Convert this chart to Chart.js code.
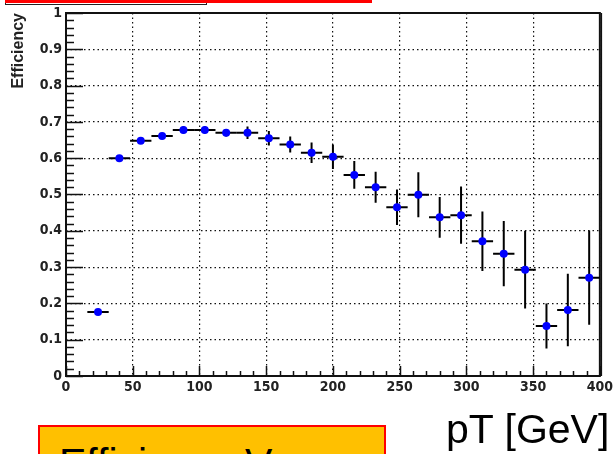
<!DOCTYPE html>
<html>
<head>
<meta charset="utf-8">
<script src="https://cdn.jsdelivr.net/npm/chart.js@4.4.1/dist/chart.umd.min.js"></script>
<style>
  html, body { margin: 0; padding: 0; background: #fff; }
  body { width: 616px; height: 454px; overflow: hidden; position: relative; font-family: "Liberation Sans", Arial, sans-serif; }
  #chart { position: absolute; left: 0; top: 0; }
  .topbar { position: absolute; left: 5px; top: 0; width: 367px; height: 3px; background: #ff0000; }
  .topbox { position: absolute; left: 5px; top: -2px; width: 200px; height: 6px; border: 1.5px solid #222; border-top: none; }
  .title-box { position: absolute; left: 38px; top: 425px; width: 344px; height: 60px; background: #ffc000; border: 2px solid #ff0000; overflow: hidden; }
  .title-box span { position: absolute; left: 19px; top: 16px; font-size: 41px; line-height: 41px; color: #000; white-space: nowrap; }
  .xlabel { position: absolute; left: 446px; top: 409px; font-size: 41px; line-height: 41px; color: #000; white-space: nowrap; }
</style>
</head>
<body>
<canvas id="chart" width="616" height="454"></canvas>
<div class="topbox"></div>
<div class="topbar"></div>
<div class="title-box"><span>Efficiency Vs</span></div>
<div class="xlabel">pT [GeV]</div>
<script>
// bin centres in pT (GeV), bins 16 GeV wide
const ptCenters = [24, 40, 56, 72, 88, 104, 120, 136, 152, 168, 184, 200,
                   216, 232, 248, 264, 280, 296, 312, 328, 344, 360, 376, 392];
const binHalf = 8;
const efficiency = [0.176, 0.600, 0.648, 0.661, 0.678, 0.678, 0.670, 0.670,
                    0.655, 0.638, 0.615, 0.604, 0.554, 0.520, 0.465, 0.499,
                    0.437, 0.443, 0.371, 0.337, 0.293, 0.138, 0.182, 0.271];
const effError = [0.005, 0.006, 0.008, 0.008, 0.010, 0.010, 0.010, 0.017,
                  0.020, 0.022, 0.028, 0.034, 0.038, 0.043, 0.049, 0.062,
                  0.056, 0.079, 0.082, 0.090, 0.107, 0.062, 0.100, 0.130];

const xTickStep = 50, xMinorStep = 10;
const yTickStep = 0.1, yMinorStep = 0.02;

const tickFont = {
  family: "'Liberation Sans Narrow', 'DejaVu Sans Condensed', 'Liberation Sans', Arial, sans-serif",
  size: 14,
  weight: 'bold'
};

// error bars, frame and inside ticks (ROOT style)
const rootPlot = {
  id: 'rootPlot',
  beforeDatasetsDraw(chart) {
    const c = chart.ctx;
    const xs = chart.scales.x, ys = chart.scales.y;
    const a = chart.chartArea;
    c.save();
    c.strokeStyle = '#111';

    // inside ticks on the y axis
    c.lineWidth = 1.5;
    for (let v = 0; v <= 1.0001; v += yMinorStep) {
      const py = Math.round(ys.getPixelForValue(v)) + 0.5;
      const major = Math.abs(v / yTickStep - Math.round(v / yTickStep)) < 1e-6;
      c.beginPath();
      c.moveTo(a.left, py);
      c.lineTo(a.left + (major ? 17 : 8), py);
      c.stroke();
    }
    // inside ticks on the x axis
    for (let v = 0; v <= 400; v += xMinorStep) {
      const px = Math.round(xs.getPixelForValue(v)) + 0.5;
      const major = v % xTickStep === 0;
      c.beginPath();
      c.moveTo(px, a.bottom);
      c.lineTo(px, a.bottom - (major ? 10 : 5));
      c.stroke();
    }

    // frame
    c.lineWidth = 2;
    c.strokeRect(a.left, a.top, a.right - a.left, a.bottom - a.top);
    c.lineWidth = 1.5;
    c.beginPath();
    c.moveTo(a.right + 1.5, a.top);
    c.lineTo(a.right + 1.5, a.bottom);
    c.stroke();

    // error bars
    c.strokeStyle = '#000';
    c.lineWidth = 2;
    ptCenters.forEach((pt, i) => {
      const px = xs.getPixelForValue(pt);
      const py = ys.getPixelForValue(efficiency[i]);
      c.beginPath();
      c.moveTo(xs.getPixelForValue(pt - binHalf), py);
      c.lineTo(xs.getPixelForValue(pt + binHalf), py);
      c.moveTo(px, ys.getPixelForValue(efficiency[i] + effError[i]));
      c.lineTo(px, ys.getPixelForValue(efficiency[i] - effError[i]));
      c.stroke();
    });
    c.restore();
  }
};

const ctx = document.getElementById('chart').getContext('2d');

new Chart(ctx, {
  type: 'scatter',
  data: {
    datasets: [{
      label: 'Efficiency',
      data: ptCenters.map((x, i) => ({ x: x, y: efficiency[i] })),
      pointRadius: 4,
      pointHoverRadius: 4,
      pointBackgroundColor: '#0000ff',
      pointBorderWidth: 0
    }]
  },
  options: {
    responsive: false,
    animation: false,
    events: [],
    layout: { padding: { top: 13, right: 15, left: 0, bottom: 0 } },
    plugins: { legend: { display: false }, tooltip: { enabled: false } },
    scales: {
      x: {
        type: 'linear',
        min: 0,
        max: 400,
        afterFit: s => { s.height = 78; },
        border: { display: false, dash: [1.5, 3] },
        grid: { color: '#111', lineWidth: 1.2, drawTicks: false },
        ticks: { stepSize: xTickStep, padding: 3, color: '#222', font: tickFont, maxRotation: 0 }
      },
      y: {
        min: 0,
        max: 1,
        afterFit: s => { s.width = 66; },
        border: { display: false, dash: [1.5, 3] },
        grid: { color: '#111', lineWidth: 1.2, drawTicks: false },
        ticks: {
          stepSize: yTickStep,
          padding: 4,
          color: '#222',
          font: tickFont,
          callback: v => String(+v.toFixed(1))
        },
        title: {
          display: true,
          text: 'Efficiency',
          align: 'end',
          color: '#222',
          padding: { top: 9, bottom: 0 },
          font: { family: "'Liberation Sans', Arial, sans-serif", size: 16, weight: 'bold' }
        }
      }
    }
  },
  plugins: [rootPlot]
});
</script>
</body>
</html>
